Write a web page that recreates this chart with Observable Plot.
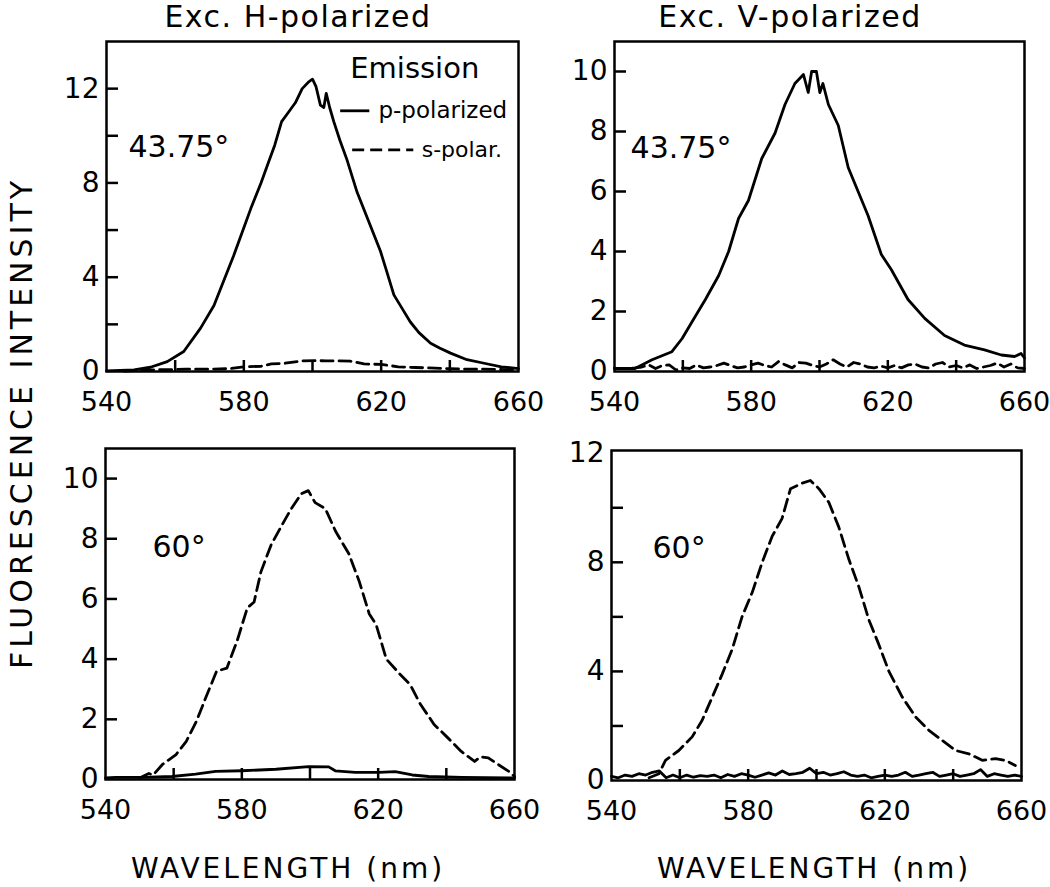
<!DOCTYPE html>
<html><head><meta charset="utf-8">
<script src="https://cdn.jsdelivr.net/npm/d3@7"></script>
<script src="https://cdn.jsdelivr.net/npm/@observablehq/plot@0.6"></script>
<style>
body{margin:0;background:#fff;}
#wrap{position:relative;width:1050px;height:887px;font-family:"DejaVu Sans",sans-serif;color:#000;overflow:hidden;}
.lab{position:absolute;white-space:nowrap;transform:translate(-50%,-50%);}
#wrap svg{position:absolute;}
</style></head><body><div id="wrap"></div>
<script>
// ---------- data ----------
const columnTitles = ["Exc. H-polarized", "Exc. V-polarized"];
const yAxisTitle = "FLUORESCENCE INTENSITY";
const xAxisTitle = "WAVELENGTH (nm)";
const angleLabels = ["43.75°", "60°"];
const legendTitle = "Emission";
const legendLabels = ["p-polarized", "s-polar."];
const xTickLabels = [540, 580, 620, 660];
const xMinorTicks = [560, 580, 600, 620, 640];

// Top-left: 43.75°, H excitation
const tlPWave = [540,544,548,552.8,557.7,562.5,567.4,571.3,574,577,580,582,585,587,589,591,593,595,597,599,600,601,602.3,603.3,604,605,606.2,608,610,613,616,619.8,621.5,623.7,626,628.5,631,634.4,637,640.2,645,650,655,660];
const tlPVal  = [0.03,0.05,0.07,0.18,0.42,0.85,1.84,2.8,3.8,4.9,6.1,6.9,8.0,8.8,9.6,10.6,11.0,11.4,12.0,12.3,12.4,12.1,11.3,11.2,11.8,11.2,10.6,9.8,9.0,7.6,6.5,5.1,4.3,3.25,2.7,2.1,1.65,1.2,1.0,0.78,0.5,0.35,0.2,0.12];
const tlSWave = [545,553,559,563,570,576,580,585,588,592,597,601,604,607,611,615,620,625,630,634,640,645,650,656,660];
const tlSVal  = [0.02,0.07,0.08,0.1,0.1,0.12,0.2,0.22,0.32,0.35,0.45,0.46,0.45,0.45,0.44,0.32,0.3,0.2,0.17,0.15,0.12,0.1,0.1,0.08,0.05];

// Top-right: 43.75°, V excitation
const trPWave = [540,546,551,556.8,559.8,562.7,566.6,570.5,573.4,576.3,579.2,583.1,587,589.9,592.8,595.3,596.7,597.7,599.1,600.1,601,602.6,605.5,608.4,611.3,614.2,618.1,621,625.9,630.8,636.6,642.4,648.3,653.2,657.1,659,660];
const trPVal  = [0.1,0.1,0.39,0.66,1.1,1.66,2.4,3.2,4.0,5.1,5.7,7.1,7.95,8.9,9.6,9.9,9.3,10.0,10.0,9.3,9.6,8.9,8.2,6.8,6.0,5.2,3.9,3.4,2.4,1.77,1.2,0.88,0.72,0.55,0.5,0.6,0.45];
const trSWave = d3.range(540, 661, 2);
const trSVal  = [0.1,0.1,0.1,0.12,0.15,0.22,0.1,0.2,0.22,0.05,0.12,0.1,0.22,0.12,0.15,0.2,0.28,0.2,0.12,0.15,0.22,0.28,0.2,0.15,0.33,0.22,0.12,0.3,0.28,0.2,0.15,0.25,0.39,0.25,0.15,0.3,0.25,0.15,0.12,0.18,0.12,0.2,0.12,0.22,0.25,0.15,0.12,0.25,0.3,0.15,0.2,0.12,0.22,0.1,0.15,0.2,0.28,0.15,0.25,0.12,0.1];

// Bottom-left: 60°, H excitation
const blPWave = [540,543,550.8,559.5,566.4,572.3,580,590,599.6,605.5,607.4,613.3,620.2,625,630,634.8,644.6,659.3,660];
const blPVal  = [0.05,0.07,0.07,0.1,0.18,0.27,0.29,0.34,0.43,0.42,0.29,0.24,0.24,0.26,0.15,0.1,0.07,0.05,0.05];
const blSWave = [550,552.7,554,556.7,560.7,563.7,566.7,569.7,572.6,575.6,578.6,581.6,583.6,585.6,588.6,591.5,594.5,597.5,599.5,601.5,604.5,607.5,611.4,614.4,617.4,619.4,622.4,626.4,629.4,632.4,636.4,640.3,644.3,648.3,650,652.3,655.2,658.2,660];
const blSVal  = [0.05,0.2,0.15,0.5,0.83,1.27,1.94,2.8,3.6,3.7,4.6,5.7,5.9,6.9,7.8,8.4,9.0,9.5,9.6,9.2,9.0,8.25,7.5,6.6,5.5,5.15,4.0,3.5,3.15,2.5,1.83,1.4,0.94,0.6,0.75,0.72,0.5,0.28,0.1];

// Bottom-right: 60°, V excitation
const brPWave = d3.range(540, 661, 2);
const brPVal  = [0.15,0.1,0.2,0.15,0.25,0.2,0.3,0.35,0.1,0.2,0.1,0.2,0.12,0.18,0.15,0.2,0.1,0.22,0.15,0.25,0.2,0.12,0.2,0.28,0.2,0.35,0.22,0.25,0.3,0.45,0.25,0.3,0.2,0.25,0.32,0.2,0.15,0.2,0.1,0.15,0.2,0.15,0.2,0.3,0.15,0.2,0.25,0.3,0.15,0.2,0.25,0.15,0.2,0.25,0.4,0.15,0.25,0.2,0.15,0.2,0.15];
const brSWave = [551,553.9,555.8,559.7,563.6,566.5,569.5,572.4,575.3,578.2,581.2,584.1,587,589.9,592.4,595.8,598.2,600.7,603.6,606.5,609.5,612.4,615.3,618.2,621.2,625.1,629,632.9,636.8,640.7,644.6,648.5,652.4,655.3,658.2];
const brSVal  = [0.1,0.25,0.74,1.1,1.6,2.2,3.06,3.9,4.8,6.0,6.9,8.0,8.95,9.6,10.7,10.9,11.0,10.7,10.2,9.3,8.1,7.1,5.9,5.0,4.0,3.06,2.33,1.84,1.47,1.1,0.98,0.74,0.8,0.74,0.55];

// ---------- drawing ----------
const FONT = '"DejaVu Sans", sans-serif';
const wrap = document.getElementById("wrap");
const zip = (w, v) => w.map((x, i) => ({wl: x, v: v[i]}));
const DASH = "12,6";
const SW = 2.8;

function panel({frame, yDomain, yLabels, yMinor, p, s, angle, angleX, angleY, extra = []}) {
  const mL = 100, mR = 45, mT = 10, mB = 60;
  const innerW = frame.right - frame.left, innerH = frame.bottom - frame.top;
  const svg = Plot.plot({
    width: innerW + mL + mR, height: innerH + mT + mB,
    marginLeft: mL, marginRight: mR, marginTop: mT, marginBottom: mB,
    x: {domain: [540, 660], label: null},
    y: {domain: yDomain, label: null},
    style: {fontFamily: FONT, background: "transparent", overflow: "visible", color: "#000"},
    marks: [
      Plot.tickY(yMinor, {y: d => d, insetRight: innerW - 12, strokeWidth: 2.5, stroke: "#000"}),
      Plot.tickX(xMinorTicks, {x: d => d, insetTop: innerH - 11, strokeWidth: 2.5, stroke: "#000"}),
      Plot.axisY({ticks: yLabels, tickSize: 0, tickPadding: 7, fontSize: 28, tickFormat: d => String(d)}),
      Plot.axisX({ticks: xTickLabels, tickSize: 0, tickPadding: 20, fontSize: 27, tickFormat: d => String(d)}),
      Plot.line(p, {x: "wl", y: "v", stroke: "#000", strokeWidth: SW}),
      Plot.line(s, {x: "wl", y: "v", stroke: "#000", strokeWidth: SW, strokeDasharray: DASH}),
      Plot.text([angle], {x: angleX, y: angleY, text: d => d, textAnchor: "start", fontSize: 30, fill: "#000"}),
      ...extra,
      Plot.frame({stroke: "#000", strokeWidth: 2.5})
    ]
  });
  svg.style.left = (frame.left - mL) + "px";
  svg.style.top = (frame.top - mT) + "px";
  wrap.appendChild(svg);
}

const legendMarks = [
  Plot.text([legendTitle], {x: 611, y: 12.84, text: d => d, textAnchor: "start", fontSize: 29, fill: "#000"}),
  Plot.ruleY([11.06], {x1: 608.2, x2: 616.7, stroke: "#000", strokeWidth: SW}),
  Plot.ruleY([9.4], {x1: 611.7, x2: 629.5, stroke: "#000", strokeWidth: SW, strokeDasharray: DASH}),
  Plot.text([legendLabels[0]], {x: 619.2, y: 11.06, text: d => d, textAnchor: "start", fontSize: 23, fill: "#000"}),
  Plot.text([legendLabels[1]], {x: 631.8, y: 9.4, text: d => d, textAnchor: "start", fontSize: 22, fill: "#000"})
];

panel({frame: {left: 106, right: 518, top: 41, bottom: 371}, yDomain: [0, 14], yLabels: [0, 4, 8, 12], yMinor: [2, 4, 6, 8, 10, 12],
  p: zip(tlPWave, tlPVal), s: zip(tlSWave, tlSVal), angle: angleLabels[0], angleX: 546.4, angleY: 9.5, extra: legendMarks});
panel({frame: {left: 614, right: 1024, top: 41, bottom: 371}, yDomain: [0, 11], yLabels: [0, 2, 4, 6, 8, 10], yMinor: [2, 4, 6, 8, 10],
  p: zip(trPWave, trPVal), s: zip(trSWave, trSVal), angle: angleLabels[0], angleX: 544.7, angleY: 7.45});
panel({frame: {left: 105, right: 514, top: 448, bottom: 779}, yDomain: [0, 11], yLabels: [0, 2, 4, 6, 8, 10], yMinor: [2, 4, 6, 8, 10],
  p: zip(blPWave, blPVal), s: zip(blSWave, blSVal), angle: angleLabels[1], angleX: 553.8, angleY: 7.7});
panel({frame: {left: 611, right: 1021, top: 450, bottom: 780}, yDomain: [0, 12.1], yLabels: [0, 4, 8, 12], yMinor: [2, 4, 6, 8, 10],
  p: zip(brPWave, brPVal), s: zip(brSWave, brSVal), angle: angleLabels[1], angleX: 552, angleY: 8.5});

function label(text, x, y, size, spacing, rotate) {
  const d = document.createElement("div");
  d.className = "lab";
  d.textContent = text;
  d.style.left = x + "px"; d.style.top = y + "px";
  d.style.fontSize = size + "px";
  d.style.letterSpacing = spacing + "px";
  if (rotate) d.style.transform = "translate(-50%,-50%) rotate(-90deg)";
  wrap.appendChild(d);
}
label(columnTitles[0], 298, 16, 30, 1.5);
label(columnTitles[1], 790, 16, 30, 1.5);
label(yAxisTitle, 21, 423, 30, 4, true);
label(xAxisTitle, 288, 868, 28, 3);
label(xAxisTitle, 814, 868, 28, 3);
</script></body></html>
